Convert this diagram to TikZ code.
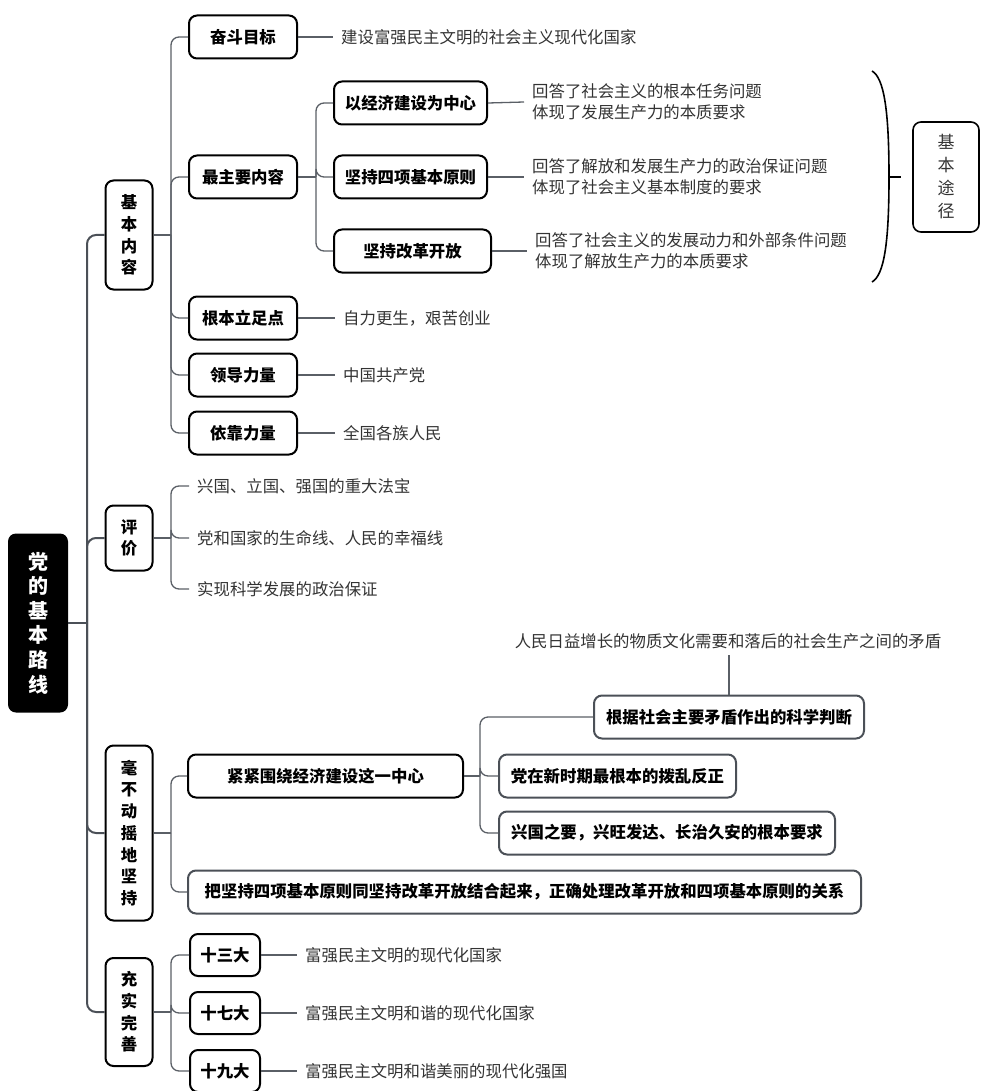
\documentclass[tikz,border=0pt]{standalone}
\usepackage{fontspec}
\setmainfont{Noto Sans CJK SC}
\usetikzlibrary{positioning}
\definecolor{lxline}{HTML}{5A5F66}
\definecolor{lxtrunk}{HTML}{4B5057}
\definecolor{lxtext}{HTML}{333333}
\definecolor{lxgrey}{HTML}{4B5057}

\tikzset{
  keybox/.style={draw=black, line width=2pt, rounded corners=8pt, inner sep=0pt,
    minimum height=43pt, font=\bfseries\fontsize{16.4}{20}\selectfont},
  vbox/.style={keybox, align=center, minimum width=47pt,
    font=\bfseries\fontsize{16.4}{21.7}\selectfont},
  greybox/.style={keybox, draw=lxgrey},
  leaf/.style={text=lxtext, inner xsep=8pt, inner ysep=2pt, align=left,
    font=\fontsize{16.4}{21}\selectfont},
  link/.style={draw=lxline, line width=1.3pt, rounded corners=8pt},
  trunk/.style={draw=lxtrunk, line width=2pt, rounded corners=9pt},
}

\begin{document}
\begin{tikzpicture}[x=1pt,y=-1pt]
\useasboundingbox (0,0) rectangle (980,1091);

% root and first level
\node[fill=black, rounded corners=8pt, text=white, align=center, inner sep=0pt,
  minimum width=60pt, minimum height=179pt,
  font=\bfseries\fontsize{20}{24.6}\selectfont] (root) at (38,623) {党\\的\\基\\本\\路\\线};

\node[vbox, minimum height=109pt] (jbnr) at (129,235)  {基\\本\\内\\容};
\node[vbox, minimum height=65pt]  (pj)   at (129,538)  {评\\价};
\node[vbox, minimum height=175pt] (hbdy) at (129,833)  {毫\\不\\动\\摇\\地\\坚\\持};
\node[vbox, minimum height=108pt] (cswc) at (129,1012) {充\\实\\完\\善};

\coordinate (t0) at (87,623);
\draw[trunk, rounded corners=0pt] (root.east) -- (t0);
\foreach \n in {jbnr,pj,hbdy,cswc} \draw[trunk] (t0) |- (\n.west);

% 基本内容
\node[keybox, minimum width=108pt] (fdmb)  at (243,37)  {奋斗目标};
\node[keybox, minimum width=108pt] (zzynr) at (243,177) {最主要内容};
\node[keybox, minimum width=108pt] (gblzd) at (243,318) {根本立足点};
\node[keybox, minimum width=108pt] (ldll)  at (243,375) {领导力量};
\node[keybox, minimum width=108pt] (ykll)  at (243,433) {依靠力量};

\coordinate (s1) at (171,235);
\draw[link] (jbnr.east) -- (s1);
\foreach \n in {fdmb,zzynr,gblzd,ldll,ykll} \draw[link] (s1) |- (\n.west);

\node[leaf, anchor=west] (fdmbt)  at (333,37)  {建设富强民主文明的社会主义现代化国家};
\node[leaf, anchor=west] (gblzdt) at (335,318) {自力更生，艰苦创业};
\node[leaf, anchor=west] (ldllt)  at (335,375) {中国共产党};
\node[leaf, anchor=west] (ykllt)  at (335,433) {全国各族人民};
\foreach \n in {fdmb,gblzd,ldll,ykll} \draw[link] (\n.east) -- (\n t.west);

% 最主要内容
\node[keybox, minimum width=153pt] (yjj)  at (410.5,103) {以经济建设为中心};
\node[keybox, minimum width=153pt] (jcsx) at (410.5,177) {坚持四项基本原则};
\node[keybox, minimum width=157pt] (jcgg) at (412.5,251) {坚持改革开放};

\coordinate (s2) at (316,177);
\draw[link] (zzynr.east) -- (s2);
\foreach \n in {yjj,jcsx,jcgg} \draw[link] (s2) |- (\n.west);

\node[leaf, anchor=west] (yjjt)  at (524,102) {回答了社会主义的根本任务问题\\体现了发展生产力的本质要求};
\node[leaf, anchor=west] (jcsxt) at (524,177) {回答了解放和发展生产力的政治保证问题\\体现了社会主义基本制度的要求};
\node[leaf, anchor=west] (jcggt) at (527,251) {回答了社会主义的发展动力和外部条件问题\\体现了解放生产力的本质要求};
\foreach \n in {yjj,jcsx,jcgg} \draw[link] (\n.east) -- (\n t.west);

% brace and 基本途径
\draw[line width=1.6pt] (872,71) .. controls (884,78) and (889,110) .. (889,177)
  .. controls (889,244) and (884,275) .. (872,282);
\draw[line width=1.6pt] (889,177) -- (901,177);
\node[draw=black, line width=1.6pt, rounded corners=8pt, inner sep=0pt, align=center,
  minimum width=66pt, minimum height=110pt, text=lxtext,
  font=\fontsize{17}{23}\selectfont] (jbtj) at (946,177) {基\\本\\途\\径};

% 评价
\coordinate (s3) at (171,538);
\draw[link] (pj.east) -- (s3);
\node[leaf, anchor=west] (pja) at (189,486) {兴国、立国、强国的重大法宝};
\node[leaf, anchor=west] (pjb) at (189,538) {党和国家的生命线、人民的幸福线};
\node[leaf, anchor=west] (pjc) at (189,589) {实现科学发展的政治保证};
\foreach \n in {pja,pjb,pjc} \draw[link] (s3) |- (\n.west);

% 毫不动摇地坚持
\node[keybox, minimum width=275pt] (jjwr) at (325.5,776) {紧紧围绕经济建设这一中心};
\node[greybox, minimum width=673pt] (bjc) at (524.5,892) {把坚持四项基本原则同坚持改革开放结合起来，正确处理改革开放和四项基本原则的关系};

\coordinate (s4) at (171,833);
\draw[link] (hbdy.east) -- (s4);
\foreach \n in {jjwr,bjc} \draw[link] (s4) |- (\n.west);

\node[greybox, minimum width=270pt] (gjsh) at (729,717)   {根据社会主要矛盾作出的科学判断};
\node[greybox, minimum width=237pt] (dzxs) at (617.5,776) {党在新时期最根本的拨乱反正};
\node[greybox, minimum width=336pt] (xgzy) at (667,833)   {兴国之要，兴旺发达、长治久安的根本要求};

\coordinate (s5) at (480,776);
\draw[link] (jjwr.east) -- (s5);
\foreach \n in {gjsh,dzxs,xgzy} \draw[link] (s5) |- (\n.west);

\node[leaf, inner ysep=6pt] (mdxs) at (728,641) {人民日益增长的物质文化需要和落后的社会生产之间的矛盾};
\draw[link] (gjsh.north) -- (gjsh.north |- mdxs.south);

% 充实完善
\node[keybox, minimum width=70pt, minimum height=42pt] (ssd) at (225,955)  {十三大};
\node[keybox, minimum width=70pt, minimum height=42pt] (sqd) at (225,1013) {十七大};
\node[keybox, minimum width=70pt, minimum height=42pt] (sjd) at (225,1071) {十九大};

\coordinate (s6) at (171,1012);
\draw[link] (cswc.east) -- (s6);
\foreach \n in {ssd,sqd,sjd} \draw[link] (s6) |- (\n.west);

\node[leaf, anchor=west] (ssdt) at (297,955)  {富强民主文明的现代化国家};
\node[leaf, anchor=west] (sqdt) at (297,1013) {富强民主文明和谐的现代化国家};
\node[leaf, anchor=west] (sjdt) at (297,1071) {富强民主文明和谐美丽的现代化强国};
\foreach \n in {ssd,sqd,sjd} \draw[link] (\n.east) -- (\n t.west);
\end{tikzpicture}
\end{document}
